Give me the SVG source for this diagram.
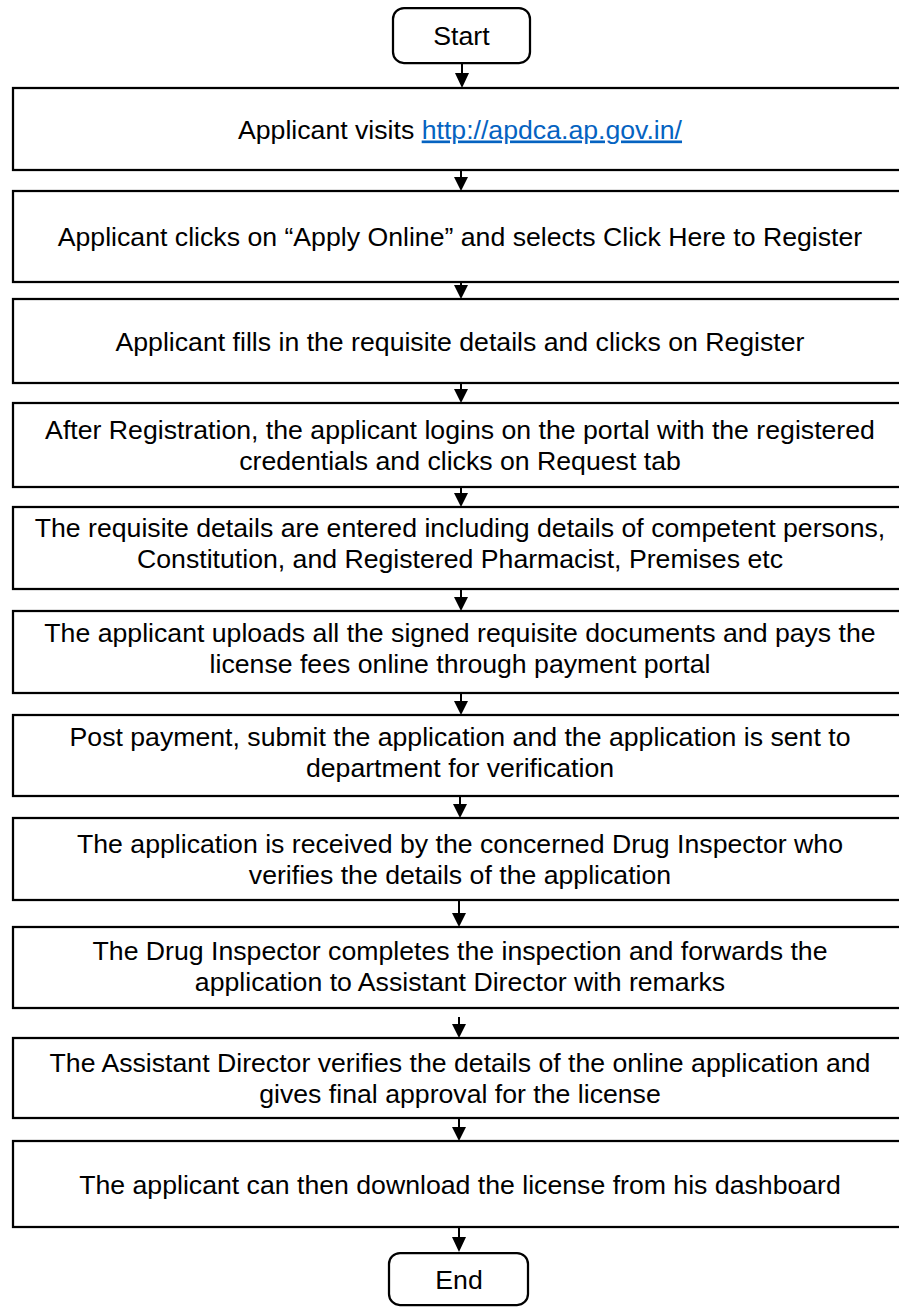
<svg xmlns="http://www.w3.org/2000/svg" width="899" height="1307" viewBox="0 0 899 1307">
<style>
.box{fill:#fff;stroke:#000;stroke-width:2.25}
.t{font-family:"Liberation Sans",Arial,sans-serif;font-size:26.67px;fill:#000;text-anchor:middle}
.lnk{fill:#0563C1;text-decoration:underline}
.c{stroke:#000;stroke-width:2;fill:none}
.h{fill:#000}
</style>
<rect width="899" height="1307" fill="#fff"/>
<g id="start"><rect class="box" x="393" y="8" width="137" height="55" rx="11"/><text class="t" x="461.5" y="45">Start</text></g>
<g id="n1"><rect class="box" x="13" y="88" width="900" height="82"/><text class="t" x="460" y="138.5">Applicant visits <tspan class="lnk">http://apdca.ap.gov.in/</tspan></text></g>
<g id="n2"><rect class="box" x="13" y="191" width="900" height="91"/><text class="t" x="460" y="246">Applicant clicks on “Apply Online” and selects Click Here to Register</text></g>
<g id="n3"><rect class="box" x="13" y="299" width="900" height="84"/><text class="t" x="460" y="350.5">Applicant fills in the requisite details and clicks on Register</text></g>
<g id="n4"><rect class="box" x="13" y="403" width="900" height="84"/><text class="t" x="460" y="439">After Registration, the applicant logins on the portal with the registered</text><text class="t" x="460" y="469.7">credentials and clicks on Request tab</text></g>
<g id="n5"><rect class="box" x="13" y="507" width="900" height="82"/><text class="t" x="460" y="537">The requisite details are entered including details of competent persons,</text><text class="t" x="460" y="567.7">Constitution, and Registered Pharmacist, Premises etc</text></g>
<g id="n6"><rect class="box" x="13" y="611" width="900" height="82"/><text class="t" x="460" y="642">The applicant uploads all the signed requisite documents and pays the</text><text class="t" x="460" y="672.7">license fees online through payment portal</text></g>
<g id="n7"><rect class="box" x="13" y="715" width="900" height="81"/><text class="t" x="460" y="746">Post payment, submit the application and the application is sent to</text><text class="t" x="460" y="776.7">department for verification</text></g>
<g id="n8"><rect class="box" x="13" y="818" width="900" height="82"/><text class="t" x="460" y="853">The application is received by the concerned Drug Inspector who</text><text class="t" x="460" y="883.7">verifies the details of the application</text></g>
<g id="n9"><rect class="box" x="13" y="927" width="900" height="81"/><text class="t" x="460" y="960">The Drug Inspector completes the inspection and forwards the</text><text class="t" x="460" y="990.7">application to Assistant Director with remarks</text></g>
<g id="n10"><rect class="box" x="13" y="1038" width="900" height="80"/><text class="t" x="460" y="1072">The Assistant Director verifies the details of the online application and</text><text class="t" x="460" y="1102.7">gives final approval for the license</text></g>
<g id="n11"><rect class="box" x="13" y="1141" width="900" height="86"/><text class="t" x="460" y="1194">The applicant can then download the license from his dashboard</text></g>
<g id="end"><rect class="box" x="389" y="1253" width="139" height="52" rx="11"/><text class="t" x="459" y="1289">End</text></g>
<g id="connectors">
<line class="c" x1="462" y1="63" x2="462" y2="76"/><polygon class="h" points="455,73 469,73 462,88"/>
<line class="c" x1="461" y1="170" x2="461" y2="180"/><polygon class="h" points="454,177 468,177 461,191"/>
<line class="c" x1="461" y1="282" x2="461" y2="288"/><polygon class="h" points="454,285 468,285 461,299"/>
<line class="c" x1="461" y1="383" x2="461" y2="392"/><polygon class="h" points="454,389 468,389 461,403"/>
<line class="c" x1="461" y1="487" x2="461" y2="496"/><polygon class="h" points="454,493 468,493 461,507"/>
<line class="c" x1="461" y1="589" x2="461" y2="600"/><polygon class="h" points="454,597 468,597 461,611"/>
<line class="c" x1="461" y1="693" x2="461" y2="704"/><polygon class="h" points="454,701 468,701 461,715"/>
<line class="c" x1="460" y1="796" x2="460" y2="807"/><polygon class="h" points="453,804 467,804 460,818"/>
<line class="c" x1="459" y1="900" x2="459" y2="916"/><polygon class="h" points="452,913 466,913 459,927"/>
<line class="c" x1="459" y1="1017" x2="459" y2="1027"/><polygon class="h" points="452,1024 466,1024 459,1038"/>
<line class="c" x1="459" y1="1118" x2="459" y2="1130"/><polygon class="h" points="452,1127 466,1127 459,1141"/>
<line class="c" x1="459" y1="1227" x2="459" y2="1240"/><polygon class="h" points="452,1237 466,1237 459,1252"/>
</g>
</svg>
